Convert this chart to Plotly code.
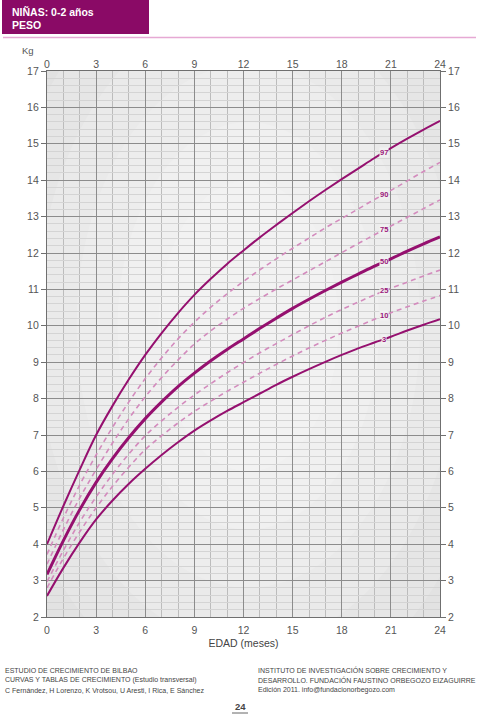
import numpy as np
import plotly.graph_objects as go

# ---- data ----
months = list(range(0, 25))
p97 = [4.00, 5.05, 6.05, 7.00, 7.80, 8.53, 9.20, 9.80, 10.35, 10.85, 11.29, 11.70, 12.07,
       12.43, 12.77, 13.10, 13.42, 13.73, 14.03, 14.32, 14.61, 14.88, 15.14, 15.39, 15.63]
p90 = [3.72, 4.72, 5.63, 6.45, 7.21, 7.91, 8.55, 9.12, 9.64, 10.10, 10.51, 10.88, 11.22,
       11.54, 11.84, 12.13, 12.41, 12.69, 12.95, 13.21, 13.47, 13.72, 13.98, 14.24, 14.49]
p75 = [3.45, 4.40, 5.27, 6.05, 6.78, 7.45, 8.05, 8.58, 9.06, 9.50, 9.86, 10.18, 10.48,
       10.75, 11.01, 11.26, 11.51, 11.76, 12.01, 12.26, 12.50, 12.74, 12.98, 13.22, 13.46]
p50 = [3.17, 4.10, 4.95, 5.70, 6.35, 6.93, 7.45, 7.91, 8.33, 8.70, 9.04, 9.35, 9.64,
       9.93, 10.21, 10.48, 10.73, 10.97, 11.20, 11.42, 11.64, 11.84, 12.05, 12.25, 12.44]
p25 = [2.97, 3.83, 4.61, 5.30, 5.92, 6.48, 6.98, 7.39, 7.76, 8.10, 8.41, 8.71, 8.99,
       9.26, 9.51, 9.76, 10.00, 10.23, 10.45, 10.65, 10.85, 11.03, 11.20, 11.37, 11.53]
p10 = [2.80, 3.61, 4.34, 5.00, 5.59, 6.12, 6.60, 6.98, 7.33, 7.65, 7.93, 8.20, 8.45,
       8.70, 8.94, 9.17, 9.39, 9.60, 9.80, 9.99, 10.18, 10.36, 10.52, 10.68, 10.83]
p3 = [2.58, 3.35, 4.05, 4.68, 5.20, 5.66, 6.07, 6.45, 6.80, 7.12, 7.40, 7.66, 7.90,
      8.14, 8.38, 8.60, 8.81, 9.01, 9.20, 9.38, 9.54, 9.70, 9.87, 10.03, 10.18]

percentile_names = ["97", "90", "75", "50", "25", "10", "3"]
x_ticks = [0, 3, 6, 9, 12, 15, 18, 21, 24]
y_ticks = list(range(2, 18))
label_month = 20.6

# ---- styles ----
SOLID = "#95106f"
DASH = "#d38bbd"
LABEL = "#9a1679"
HEAD = "#8a0a66"

series = [p97, p90, p75, p50, p25, p10, p3]
styles = {
    "97": dict(color=SOLID, width=2.0, dash="solid"),
    "90": dict(color=DASH, width=1.6, dash="5px,4px"),
    "75": dict(color=DASH, width=1.6, dash="5px,4px"),
    "50": dict(color=SOLID, width=3.0, dash="solid"),
    "25": dict(color=DASH, width=1.6, dash="5px,4px"),
    "10": dict(color=DASH, width=1.6, dash="5px,4px"),
    "3": dict(color=SOLID, width=2.0, dash="solid"),
}

fig = go.Figure()
for name, vals in zip(percentile_names, series):
    fig.add_trace(go.Scatter(x=months, y=vals, mode="lines", name=name,
                             line=dict(shape="spline", smoothing=1.0, **styles[name]),
                             hoverinfo="skip", showlegend=False))

# percentile labels on the curves
annotations = []
for name, vals in zip(percentile_names, series):
    yv = float(np.interp(label_month, months, vals))
    annotations.append(dict(x=label_month, y=yv, xref="x", yref="y", text="<b>%s</b>" % name,
                            showarrow=False, font=dict(size=7.5, color=LABEL, family="Liberation Sans"),
                            bgcolor="#f1f1f1", borderpad=0))

W, H = 480, 714
L, R, T, B = 47, 440, 71, 617


def px(xp):
    return (xp - L) / (R - L)


def py(yp):
    return (B - yp) / (B - T)


FONT = "Liberation Sans"
annotations += [
    dict(x=px(36), y=py(51), xref="paper", yref="paper", text="Kg", showarrow=False,
         xanchor="right", yanchor="middle", font=dict(size=9.5, color="#555", family=FONT)),
    dict(x=px(10), y=py(12), xref="paper", yref="paper", text="<b>NIÑAS: 0-2 años</b>", showarrow=False,
         xanchor="left", yanchor="middle", font=dict(size=10.5, color="white", family=FONT)),
    dict(x=px(10), y=py(25), xref="paper", yref="paper", text="<b>PESO</b>", showarrow=False,
         xanchor="left", yanchor="middle", font=dict(size=10.5, color="white", family=FONT)),
]
left_foot = ["ESTUDIO DE CRECIMIENTO DE BILBAO",
             "CURVAS Y TABLAS DE CRECIMIENTO (Estudio transversal)",
             "C Fernández, H Lorenzo, K Vrotsou, U Aresti, I Rica, E Sánchez"]
right_foot = ["INSTITUTO DE INVESTIGACIÓN SOBRE CRECIMIENTO Y",
              "DESARROLLO. FUNDACIÓN FAUSTINO ORBEGOZO EIZAGUIRRE",
              "Edición 2011. info@fundacionorbegozo.com"]
for i, (lt, rt) in enumerate(zip(left_foot, right_foot)):
    yy = 670 + i * 10
    annotations.append(dict(x=px(3), y=py(yy), xref="paper", yref="paper", text=lt, showarrow=False,
                            xanchor="left", yanchor="middle", font=dict(size=7, color="#444", family=FONT)))
    annotations.append(dict(x=px(256), y=py(yy), xref="paper", yref="paper", text=rt, showarrow=False,
                            xanchor="left", yanchor="middle", font=dict(size=7, color="#444", family=FONT)))
annotations.append(dict(x=px(240), y=py(706), xref="paper", yref="paper", text="<b>24</b>", showarrow=False,
                        xanchor="center", yanchor="middle", font=dict(size=9.5, color="#444", family=FONT)))

shapes = [
    dict(type="rect", xref="paper", yref="paper", x0=px(2), x1=px(149), y0=py(0), y1=py(34),
         fillcolor=HEAD, line=dict(width=0), layer="above"),
    dict(type="line", xref="paper", yref="paper", x0=px(3), x1=px(476), y0=py(37.5), y1=py(37.5),
         line=dict(color="#e6a9d4", width=1.5)),
    dict(type="line", xref="paper", yref="paper", x0=px(232), x1=px(248), y0=py(713), y1=py(713),
         line=dict(color="#666", width=1)),
]
# soft radial-looking background
radii = [(22, 15), (18.5, 12.5), (15.5, 10.5), (13, 8.8), (10.5, 7.2), (8, 5.6), (5.5, 4)]
for rx, ry in radii:
    shapes.append(dict(type="circle", xref="x", yref="y", x0=12.3 - rx, x1=12.3 + rx, y0=10 - ry, y1=10 + ry,
                       fillcolor="white", opacity=0.16, line=dict(width=0), layer="below"))

tickfont = dict(size=10.5, color="#555", family=FONT)
fig.update_layout(
    width=W, height=H,
    margin=dict(l=L, r=W - R, t=T, b=H - B),
    paper_bgcolor="white", plot_bgcolor="#d7d7d7",
    xaxis=dict(range=[0, 24], tickvals=x_ticks, showgrid=True, gridcolor="#8c8c8c", gridwidth=1,
               minor=dict(dtick=1, tick0=0, showgrid=True, gridcolor="#bcbcbc", gridwidth=0.8),
               showline=True, linecolor="#6f6f6f", linewidth=1.2, mirror=True, zeroline=False,
               ticks="", tickfont=tickfont, ticklabelstandoff=3,
               title=dict(text="EDAD (meses)", font=dict(size=10.5, color="#444", family=FONT), standoff=4)),
    xaxis2=dict(range=[0, 24], tickvals=x_ticks, overlaying="x", side="top", matches="x",
                showgrid=False, zeroline=False, ticks="", tickfont=tickfont, showline=False),
    yaxis=dict(range=[2, 17], tickvals=y_ticks, showgrid=True, gridcolor="#8c8c8c", gridwidth=1,
               minor=dict(dtick=0.2, tick0=2, showgrid=True, gridcolor="#d4d4d4", gridwidth=0.8),
               showline=True, linecolor="#6f6f6f", linewidth=1.2, mirror=True, zeroline=False,
               ticks="outside", ticklen=5, tickcolor="#6f6f6f", tickfont=tickfont),
    yaxis2=dict(range=[2, 17], tickvals=y_ticks, overlaying="y", side="right", matches="y",
                showgrid=False, zeroline=False, ticks="outside", ticklen=5, tickcolor="#6f6f6f",
                tickfont=tickfont, showline=False),
    annotations=annotations,
    shapes=shapes,
)
fig.add_trace(go.Scatter(x=[None], y=[None], xaxis="x2", yaxis="y2", showlegend=False, hoverinfo="skip"))

fig.write_html("out.html", config={"displayModeBar": False},
               post_script="document.body.style.margin='0px';document.body.style.padding='0px';")
